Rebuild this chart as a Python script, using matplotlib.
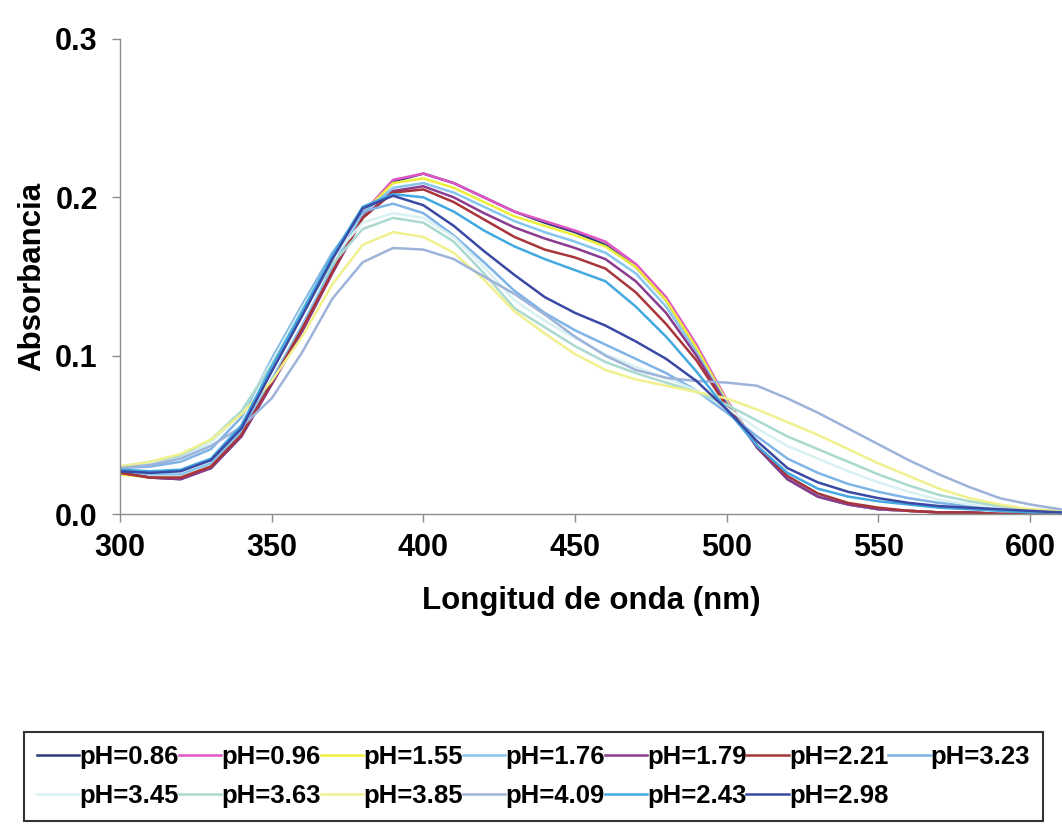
"""UV-Vis absorbance spectra at several pH values (scanned Excel chart rebuild)."""
import matplotlib

matplotlib.use("Agg")
import matplotlib.pyplot as plt  # noqa: E402

plt.rcParams["font.family"] = ["Liberation Sans", "DejaVu Sans"]
plt.rcParams["font.weight"] = "bold"

wavelength_nm = list(range(300, 620, 10))

ph_0_86 = [.026, .023, .022, .029, .049, .082, .116, .153, .189, .210, .215, .209, .200, .191, .184, .178,
           .170, .156, .135, .105, .071, .042, .022, .011, .006, .003, .002, .001, .001, .000, .000, .000]
ph_0_96 = [.026, .023, .023, .030, .050, .082, .116, .153, .190, .211, .215, .209, .200, .191, .185, .179,
           .172, .158, .137, .107, .072, .043, .023, .012, .006, .003, .002, .001, .001, .000, .000, .000]
ph_1_55 = [.025, .023, .023, .030, .050, .083, .117, .154, .190, .209, .212, .206, .197, .188, .182, .176,
           .169, .156, .135, .105, .071, .043, .023, .012, .006, .003, .002, .001, .001, .000, .000, .000]
ph_1_76 = [.027, .025, .025, .032, .052, .085, .119, .156, .190, .206, .209, .203, .194, .185, .178, .172,
           .165, .152, .131, .102, .070, .043, .023, .012, .006, .003, .002, .001, .001, .000, .000, .000]
ph_1_79 = [.026, .023, .022, .029, .049, .082, .115, .152, .187, .204, .207, .200, .190, .181, .174, .168,
           .161, .147, .127, .100, .069, .042, .022, .011, .006, .003, .002, .001, .001, .000, .000, .000]
ph_2_21 = [.026, .023, .023, .030, .050, .083, .117, .153, .187, .203, .205, .197, .186, .175, .167, .162,
           .155, .140, .120, .097, .068, .043, .024, .013, .007, .004, .002, .001, .001, .000, .000, .000]
ph_2_43 = [.028, .027, .028, .035, .056, .093, .128, .163, .194, .202, .200, .191, .179, .169, .161, .154,
           .147, .131, .112, .090, .066, .043, .026, .016, .011, .008, .006, .004, .003, .002, .001, .001]
ph_2_98 = [.027, .026, .027, .034, .054, .090, .125, .161, .193, .201, .195, .182, .166, .151, .137, .127,
           .119, .109, .098, .084, .066, .046, .029, .020, .014, .010, .007, .005, .004, .003, .002, .001]
ph_3_23 = [.029, .030, .033, .041, .061, .098, .132, .165, .191, .196, .190, .176, .159, .141, .127, .116,
           .107, .098, .089, .078, .064, .049, .035, .026, .019, .014, .010, .007, .005, .003, .002, .001]
ph_3_45 = [.030, .032, .036, .045, .064, .096, .130, .162, .184, .190, .187, .175, .156, .135, .122, .111,
           .101, .093, .086, .078, .067, .054, .043, .035, .027, .020, .014, .009, .006, .004, .002, .001]
ph_3_63 = [.030, .033, .037, .047, .065, .094, .127, .158, .180, .187, .184, .172, .152, .130, .118, .106,
           .096, .089, .083, .077, .069, .059, .049, .041, .033, .025, .018, .012, .008, .005, .003, .002]
ph_3_85 = [.030, .033, .038, .047, .063, .084, .112, .145, .170, .178, .175, .165, .148, .128, .114, .101,
           .091, .085, .081, .077, .073, .066, .058, .050, .041, .032, .024, .016, .010, .006, .003, .002]
ph_4_09 = [.029, .031, .035, .043, .055, .073, .102, .136, .159, .168, .167, .161, .150, .139, .126, .112,
           .100, .091, .086, .084, .083, .081, .073, .064, .054, .044, .034, .025, .017, .010, .006, .003]

# legend order (Excel series order) and colours as they look in the scan
series = [
    ("pH=0.86", ph_0_86, "#2c3b7c"),
    ("pH=0.96", ph_0_96, "#e055c3"),
    ("pH=1.55", ph_1_55, "#eeee3a"),
    ("pH=1.76", ph_1_76, "#86c6ee"),
    ("pH=1.79", ph_1_79, "#8c3c8e"),
    ("pH=2.21", ph_2_21, "#a8353a"),
    ("pH=3.23", ph_3_23, "#7fb4e6"),
    ("pH=3.45", ph_3_45, "#d9f1f2"),
    ("pH=3.63", ph_3_63, "#a9d9cf"),
    ("pH=3.85", ph_3_85, "#f1f08e"),
    ("pH=4.09", ph_4_09, "#9db3da"),
    ("pH=2.43", ph_2_43, "#43a9e0"),
    ("pH=2.98", ph_2_98, "#3a49a3"),
]

fig = plt.figure(figsize=(10.62, 8.25), dpi=100)
ax = fig.add_axes([120 / 1062, 1 - 514 / 825, 1 - 120 / 1062, (514 - 39) / 825])

handles = {}
for label, values, color in series:
    (line,) = ax.plot(wavelength_nm, values, color=color, linewidth=1.8, label=label)
    handles[label] = line

ax.set_xlim(300, 610.5)
ax.set_ylim(0, 0.3)
ax.set_xticks([300, 350, 400, 450, 500, 550, 600])
ax.set_yticks([0.0, 0.1, 0.2, 0.3])
ax.set_yticklabels(["0.0", "0.1", "0.2", "0.3"])
for side in ("top", "right"):
    ax.spines[side].set_visible(False)
for side in ("left", "bottom"):
    ax.spines[side].set_color("#8c8c8c")
    ax.spines[side].set_linewidth(1.0)
ax.tick_params(direction="out", length=6, width=1, color="#8c8c8c", labelsize=22)
ax.tick_params(axis="x", pad=8)
ax.tick_params(axis="y", pad=10)
ax.set_xlabel("Longitud de onda (nm)", fontsize=22.5, fontweight="bold", labelpad=16)
ax.set_ylabel("Absorbancia", fontsize=22.5, fontweight="bold", labelpad=6)

# matplotlib fills legend columns top-down; order so rows read like the Excel legend
legend_order = ["pH=0.86", "pH=3.45", "pH=0.96", "pH=3.63", "pH=1.55", "pH=3.85",
                "pH=1.76", "pH=4.09", "pH=1.79", "pH=2.43", "pH=2.21", "pH=2.98", "pH=3.23"]
leg = fig.legend(
    [handles[k] for k in legend_order], legend_order,
    loc="upper left", bbox_to_anchor=(24 / 1062, 1 - 732 / 825),
    ncol=7, prop={"weight": "bold", "size": 18.5},
    handlelength=1.65, handletextpad=0.0, columnspacing=0.0,
    labelspacing=0.6, borderpad=0.5, borderaxespad=0.0,
    frameon=True, fancybox=False,
)
leg.get_frame().set_edgecolor("black")
leg.get_frame().set_linewidth(1.5)

fig.savefig("out.png", dpi=100)
